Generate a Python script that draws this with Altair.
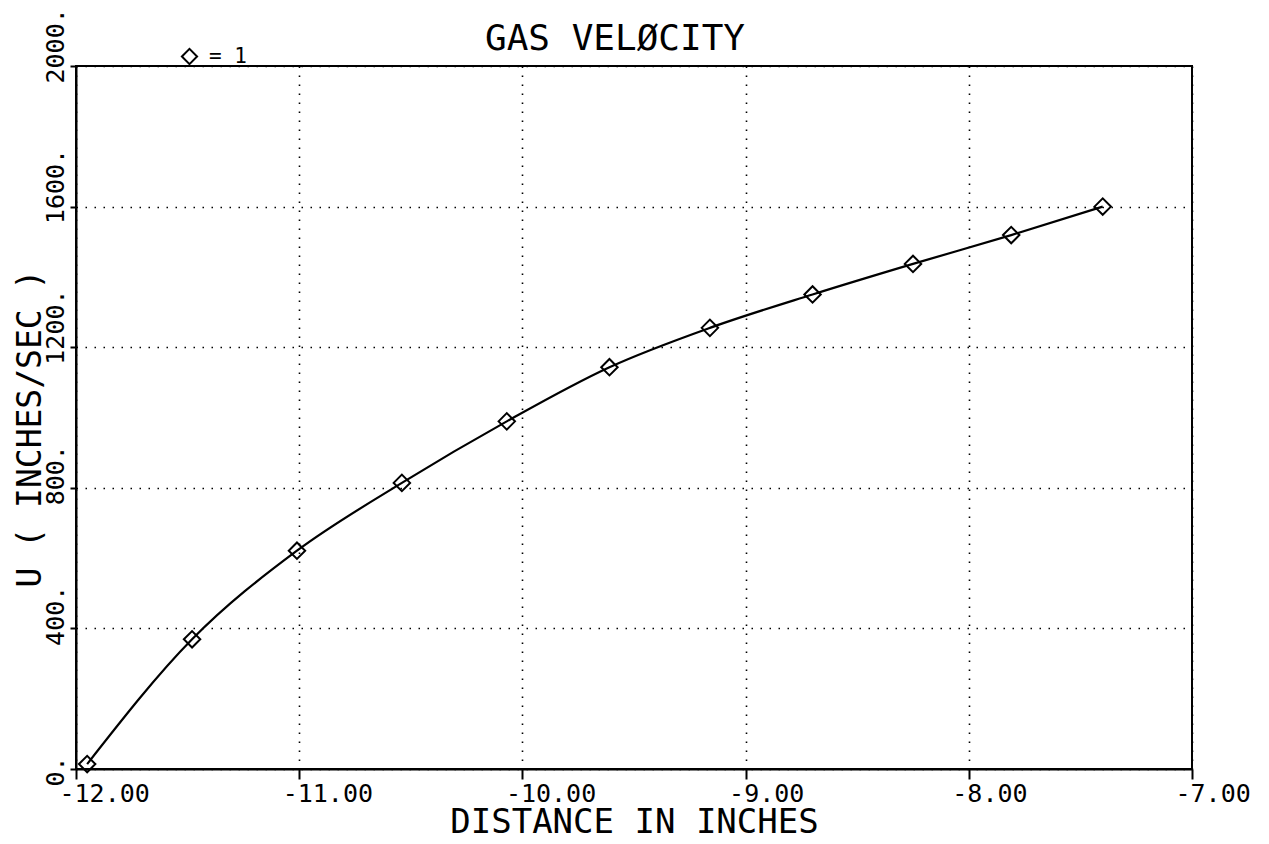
import altair as alt
import pandas as pd

# ---- data ----
distance = [-11.95, -11.48, -11.01, -10.54, -10.07, -9.61, -9.16, -8.70, -8.25, -7.81, -7.40]
velocity = [14, 369, 621, 814, 989, 1143, 1255, 1350, 1437, 1519, 1600]
series = ["1"] * len(distance)

x_ticks = [-12, -11, -10, -9, -8, -7]
y_ticks = [0, 400, 800, 1200, 1600, 2000]

chart_title = ["GAS VELØCITY"]

df = pd.DataFrame({"distance": distance, "velocity": velocity, "series": series})
title_df = pd.DataFrame({"title": chart_title})

FONT = "DejaVu Sans Mono"

x_enc = alt.X(
    "distance:Q",
    scale=alt.Scale(domain=[-12, -7], nice=False, zero=False),
    axis=alt.Axis(
        values=x_ticks,
        title="DISTANCE IN INCHES",
        labelExpr="(datum.value < 0 ? '-' : '') + format(abs(datum.value), '.2f')",
        labelAlign="left",
        labelOffset=-17,
        labelBaseline="top",
        labelFontSize=25,
        labelFont=FONT,
        labelPadding=2,
        labelFlush=False,
        labelOverlap=False,
        tickSize=10,
        titleFontSize=34,
        titleFont=FONT,
        titleFontWeight="normal",
        titleBaseline="alphabetic",
        titleY=63,
        grid=True,
        gridDash=[1.5, 7.5],
        gridColor="black",
        gridWidth=1.6,
        gridOpacity=1,
    ),
)

y_enc = alt.Y(
    "velocity:Q",
    scale=alt.Scale(domain=[0, 2000], nice=False),
    axis=alt.Axis(
        values=y_ticks,
        title="U ( INCHES/SEC )",
        labelExpr="datum.value + '.'",
        labelAngle=270,
        labelAlign="left",
        labelBaseline="alphabetic",
        labelOffset=17,
        labelFontSize=25,
        labelFont=FONT,
        labelPadding=7,
        labelFlush=False,
        labelOverlap=False,
        tickSize=6,
        titleFontSize=33,
        titleFont=FONT,
        titleFontWeight="normal",
        titleAngle=270,
        titleAlign="center",
        titleBaseline="alphabetic",
        titleX=-36,
        titleY=362,
        grid=True,
        gridDash=[1.5, 7.5],
        gridColor="black",
        gridWidth=1.6,
        gridOpacity=1,
    ),
)

line = alt.Chart(df).mark_line(interpolate="monotone", color="black", strokeWidth=2.2).encode(
    x=x_enc, y=y_enc
)

points = alt.Chart(df).mark_point(filled=False, size=270, strokeWidth=2, color="black", opacity=1).encode(
    x="distance:Q",
    y="velocity:Q",
    shape=alt.Shape(
        "series:N",
        scale=alt.Scale(range=["diamond"]),
        legend=alt.Legend(
            title=None,
            orient="none",
            legendX=103,
            legendY=-20,
            padding=0,
            symbolSize=230,
            symbolStrokeWidth=2,
            symbolStrokeColor="black",
            symbolFillColor="transparent",
            symbolType="diamond",
            labelExpr="'= ' + datum.label",
            labelFont=FONT,
            labelFontSize=21,
            labelColor="black",
            labelOffset=9,
        ),
    ),
)

title_text = alt.Chart(title_df).mark_text(
    font=FONT, fontSize=36, color="black", align="center", baseline="alphabetic"
).encode(
    text="title:N",
    x=alt.value(539),
    y=alt.value(-16),
)

chart = (
    alt.layer(line, points, title_text)
    .properties(
        width=1116,
        height=703,
        padding={"left": 68, "top": 58, "right": 65, "bottom": 66},
        autosize=alt.AutoSizeParams(type="none"),
    )
    .configure(background="white")
    .configure_view(stroke="black", strokeWidth=2)
    .configure_axis(
        domainColor="black",
        domainWidth=2,
        tickColor="black",
        tickWidth=2,
        labelColor="black",
        titleColor="black",
    )
)

chart.save("out.html", embed_options={"renderer": "svg", "actions": False})
